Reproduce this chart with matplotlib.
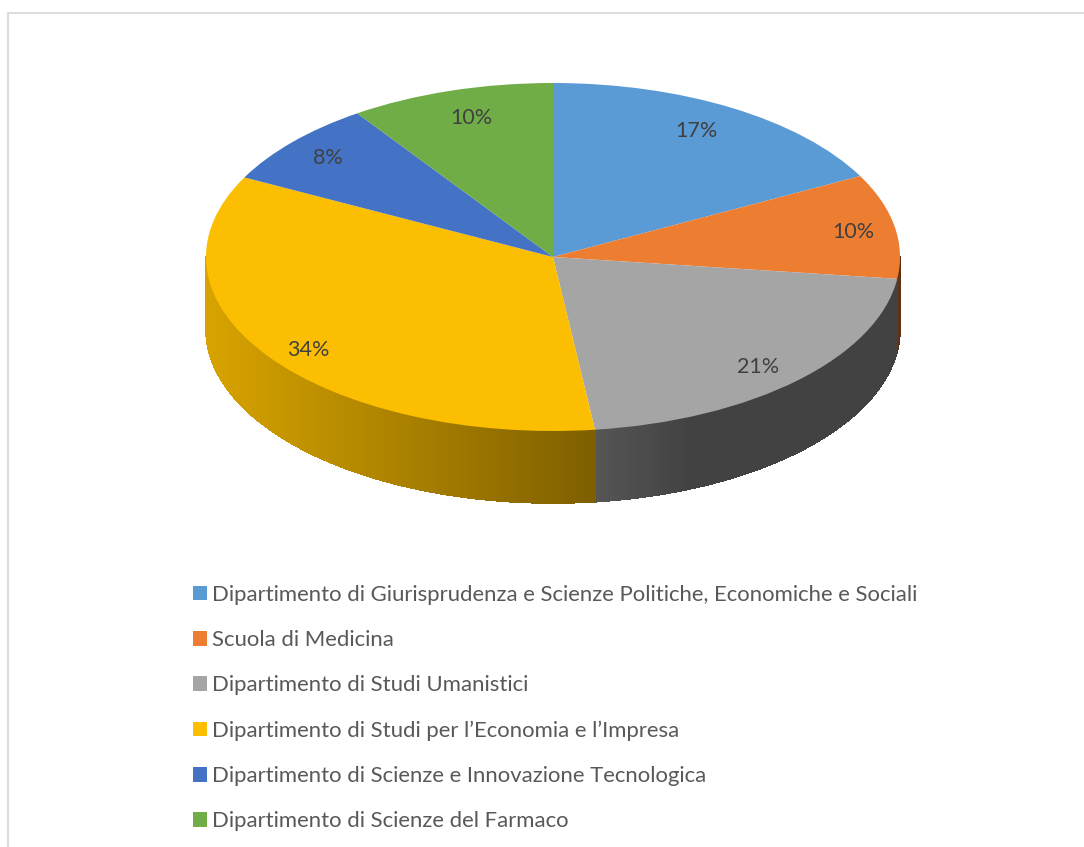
import numpy as np
import matplotlib
matplotlib.use('Agg')
import matplotlib.pyplot as plt
from matplotlib.collections import PolyCollection

plt.rcParams['font.family'] = ['Lato', 'DejaVu Sans']

# values (percent)
departments = [
    'Dipartimento di Giurisprudenza e Scienze Politiche, Economiche e Sociali',
    'Scuola di Medicina',
    'Dipartimento di Studi Umanistici',
    'Dipartimento di Studi per l’Economia e l’Impresa',
    'Dipartimento di Scienze e Innovazione Tecnologica',
    'Dipartimento di Scienze del Farmaco',
]
shares = [17.3, 9.7, 21.07, 34.49, 7.9, 9.54]
colors = ['#5b9bd5', '#ed7d31', '#a5a5a5', '#fbbe00', '#4472c4', '#70ad47']

W, H = 1084, 847
cx, cy = 553.0, 257.0
rx, ry = 347.0, 174.0
depth = 72.0

# pixel nudges for the percent labels, they don't sit on one common radius
label_nudge = [(-11, 2), (7, 2), (-5, 4), (0, 7), (-1, 0), (6, 4)]


def shade(x):
    # how dark the side wall gets, the light comes from the left
    return np.interp(x, [205, 595, 596, 690, 900], [0.86, 0.5, 0.515, 0.40, 0.40])


fig = plt.figure(figsize=(W / 100, H / 100), dpi=100, facecolor='white')

# background axes in pixel units, holds frame and side wall
ax = fig.add_axes([0, 0, 1, 1])
ax.set_xlim(0, W)
ax.set_ylim(H, 0)
ax.axis('off')
ax.plot([7.5, 7.5, W], [H, 13.5, 13.5], color='#dcdcdc', lw=1.5, solid_joinstyle='miter')

# side wall, built in thin strips per slice
edges = np.cumsum([0] + shares) / sum(shares) * 360
polys, poly_colors = [], []
for i, color in enumerate(colors):
    start, end = max(edges[i], 90), min(edges[i + 1], 270)
    if end <= start:
        continue
    base = np.array(matplotlib.colors.to_rgb(color))
    steps = np.arange(start, end, 0.4).tolist() + [end]
    for a, b in zip(steps[:-1], steps[1:]):
        xa, xb = cx + rx * np.sin(np.radians([a, b]))
        ya, yb = cy - ry * np.cos(np.radians([a, b]))
        polys.append([(xa, ya), (xb, yb), (xb, yb + depth), (xa, ya + depth)])
        poly_colors.append(base * shade((xa + xb) / 2))
ax.add_collection(PolyCollection(polys, facecolors=poly_colors, edgecolors=poly_colors,
                                 linewidths=0.5, antialiaseds=False))

# top face, a pie squashed to an ellipse
pad = 1.05
ax_pie = fig.add_axes([(cx - rx * pad) / W, 1 - (cy + ry * pad) / H, 2 * rx * pad / W, 2 * ry * pad / H])
ax_pie.patch.set_alpha(0)
wedges, _, autotexts = ax_pie.pie(shares, colors=colors, startangle=90, counterclock=False,
                                  autopct='%.0f%%', pctdistance=0.86,
                                  textprops={'fontsize': 15.5, 'color': '#404040'})
ax_pie.set_aspect('auto')
ax_pie.set_xlim(-pad, pad)
ax_pie.set_ylim(-pad, pad)
for t, (dx, dy) in zip(autotexts, label_nudge):
    x, y = t.get_position()
    t.set_position((x + dx / rx, y - dy / ry))

fig.legend(wedges, departments, loc='upper left', bbox_to_anchor=(193 / W, 1 - 585 / H),
           frameon=False, fontsize=15.9, labelcolor='#595959', handlelength=0.63, handleheight=0.63,
           handletextpad=0.22, labelspacing=1.14, borderpad=0, borderaxespad=0)

fig.savefig('out.png', dpi=100)
